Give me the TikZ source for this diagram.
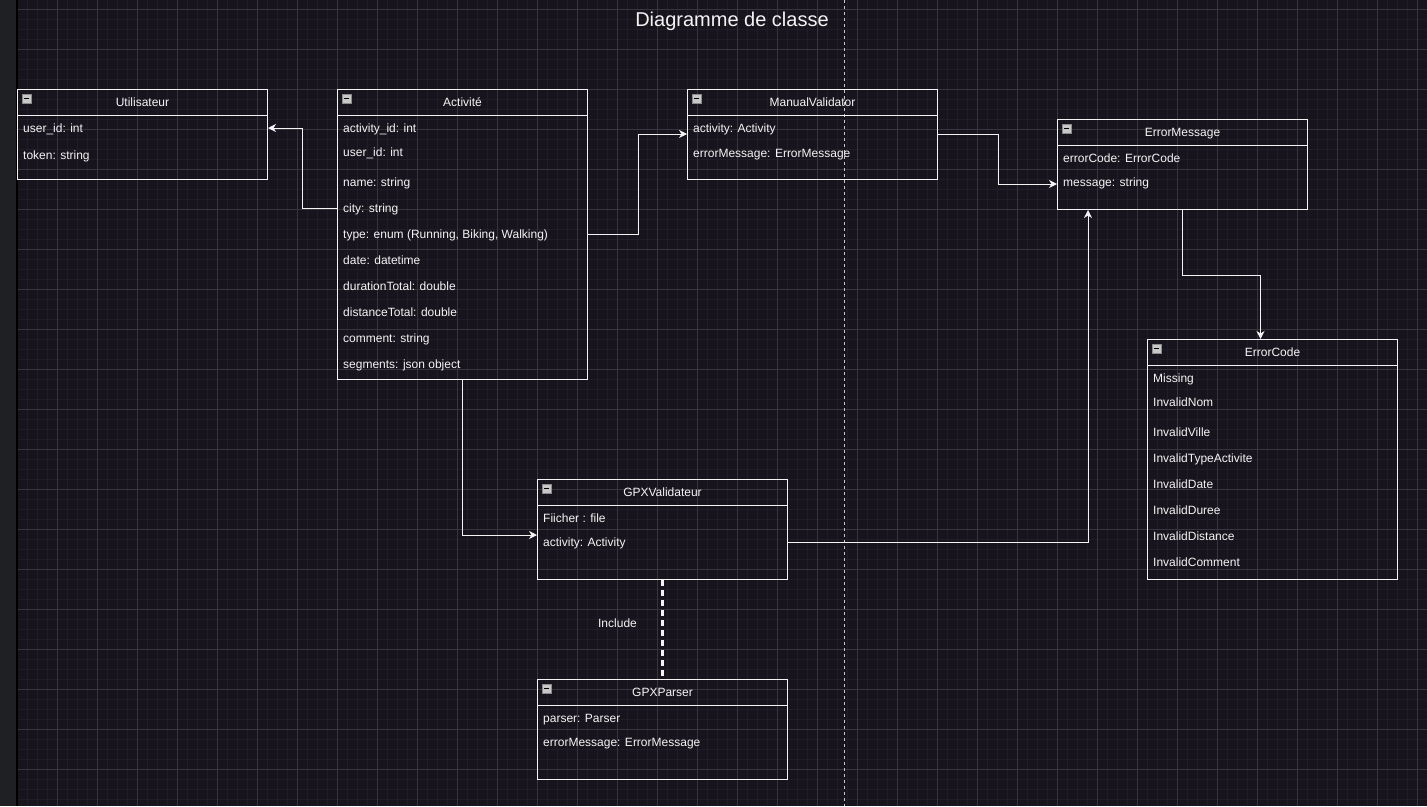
\documentclass[tikz,border=0pt]{standalone}
\usepackage{fontspec}
\setmainfont{Liberation Sans}
\usetikzlibrary{arrows.meta}
\definecolor{bg}{HTML}{18141D}
\definecolor{strip}{HTML}{1E2023}
\definecolor{gminor}{HTML}{211D26}
\definecolor{gmajor}{HTML}{38353D}
\definecolor{fg}{HTML}{F4F4F4}
\definecolor{icongray}{HTML}{C8C8C8}
\definecolor{iconborder}{HTML}{8A8A8A}
\definecolor{divider}{HTML}{C8C8C8}
\newcommand\umlbox[5]{%
  \node[cls, minimum height=#4pt] (#1) at (#2,#3) {};
  \draw[fg, line width=1pt] ([yshift=-26pt]#1.north west) -- ([yshift=-26pt]#1.north east);
  \node[hdr] (#1-title) at ([yshift=-14pt]#1.north) {#5};
  \node[icon] (#1-icon) at ([xshift=5pt,yshift=-5pt]#1.north west) {};
  \draw[black, line width=1.6pt] ([xshift=1.8pt]#1-icon.west) -- ([xshift=-1.8pt]#1-icon.east);
}
\begin{document}
\begin{tikzpicture}[x=1pt,y=-1pt,
  cls/.style={draw=fg, line width=1pt, minimum width=250pt, anchor=north west, inner sep=0pt, rectangle},
  hdr/.style={text=fg, font=\fontsize{12}{14}\selectfont, inner sep=0pt, text height=9pt, text depth=2.5pt},
  attr/.style={text=fg, font=\fontsize{12}{14}\selectfont, anchor=west, inner sep=0pt, text height=9pt, text depth=2.5pt, yshift=-1pt},
  icon/.style={draw=iconborder, fill=icongray, line width=0.6pt, minimum size=8.5pt, inner sep=0pt, anchor=north west, rectangle},
  arr/.style={draw=fg, line width=1pt, -{Stealth[length=8pt,width=8pt,inset=2.5pt]}},
  incl/.style={draw=fg, line width=2.2pt, dash pattern=on 6pt off 4pt},
]
\useasboundingbox (0,0) rectangle (1427,806);
% background
\fill[bg] (0,0) rectangle (1427,806);
\fill[strip] (0,0) rectangle (17,806);
\foreach \x in {27,37,...,1427} \draw[gminor, line width=0.8pt] (\x,0) -- (\x,806);
\foreach \y in {9,19,...,806} \draw[gminor, line width=0.8pt] (17,\y) -- (1427,\y);
\foreach \x in {57,97,...,1427} \draw[gmajor, line width=0.8pt] (\x,0) -- (\x,806);
\foreach \y in {9,49,...,806} \draw[gmajor, line width=0.8pt] (17,\y) -- (1427,\y);
\draw[black, line width=1.6pt] (17,0) -- (17,806);
\draw[divider, line width=0.9pt, dash pattern=on 3pt off 3pt] (844,0) -- (844,806);

% title
\node[text=fg, font=\fontsize{20}{24}\selectfont] (title) at (732,21) {Diagramme de classe};

% classes
\umlbox{util}{17}{89}{90}{Utilisateur}
\node[attr] (u1) at (23,128) {user\_id: int};
\node[attr] (u2) at (23,155) {token: string};

\umlbox{act}{337}{89}{290}{Activité}
\node[attr] (a1) at (343,128) {activity\_id: int};
\node[attr] (a2) at (343,152) {user\_id: int};
\node[attr] (a3) at (343,182) {name: string};
\node[attr] (a4) at (343,208) {city: string};
\node[attr] (a5) at (343,234) {type: enum (Running, Biking, Walking)};
\node[attr] (a6) at (343,260) {date: datetime};
\node[attr] (a7) at (343,286) {durationTotal: double};
\node[attr] (a8) at (343,312) {distanceTotal: double};
\node[attr] (a9) at (343,338) {comment: string};
\node[attr] (a10) at (343,364) {segments: json object};

\umlbox{mv}{687}{89}{90}{ManualValidator}
\node[attr] (m1) at (693,128) {activity: Activity};
\node[attr] (m2) at (693,153) {errorMessage: ErrorMessage};

\umlbox{em}{1057}{119}{90}{ErrorMessage}
\node[attr] (e1) at (1063,158) {errorCode: ErrorCode};
\node[attr] (e2) at (1063,182) {message: string};

\umlbox{ec}{1147}{339}{240}{ErrorCode}
\node[attr] (c1) at (1153,378) {Missing};
\node[attr] (c2) at (1153,402) {InvalidNom};
\node[attr] (c3) at (1153,432) {InvalidVille};
\node[attr] (c4) at (1153,458) {InvalidTypeActivite};
\node[attr] (c5) at (1153,484) {InvalidDate};
\node[attr] (c6) at (1153,510) {InvalidDuree};
\node[attr] (c7) at (1153,536) {InvalidDistance};
\node[attr] (c8) at (1153,562) {InvalidComment};

\umlbox{gv}{537}{479}{100}{GPXValidateur}
\node[attr] (g1) at (543,518) {Fiicher : file};
\node[attr] (g2) at (543,542) {activity: Activity};

\umlbox{gp}{537}{679}{100}{GPXParser}
\node[attr] (p1) at (543,718) {parser: Parser};
\node[attr] (p2) at (543,742) {errorMessage: ErrorMessage};

% connectors
\draw[arr] ([yshift=1pt]a4.west -| act.west) -- ++(-35,0) |- ([yshift=1pt]u1.west -| util.east);
\draw[arr] ([yshift=1pt]a5.west -| act.east) -- ++(50,0) |- ([yshift=-45pt]mv.north west);
\draw[arr] ([yshift=-45pt]mv.north east) -- ++(60,0) |- ([yshift=-65pt]em.north west);
\draw[arr] (em.south) -- ++(0,65) -| ([xshift=-12pt]ec.north);
\draw[arr] ([yshift=1pt]g2.west -| gv.east) -| ([xshift=31pt]em.south west);
\draw[arr] (act.south) |- ([yshift=-56pt]gv.north west);
\draw[incl] (gv.south) -- (gp.north) node[pos=0.44, xshift=-45pt, text=fg, font=\fontsize{12}{14}\selectfont] (inc) {Include};
\end{tikzpicture}
\end{document}
